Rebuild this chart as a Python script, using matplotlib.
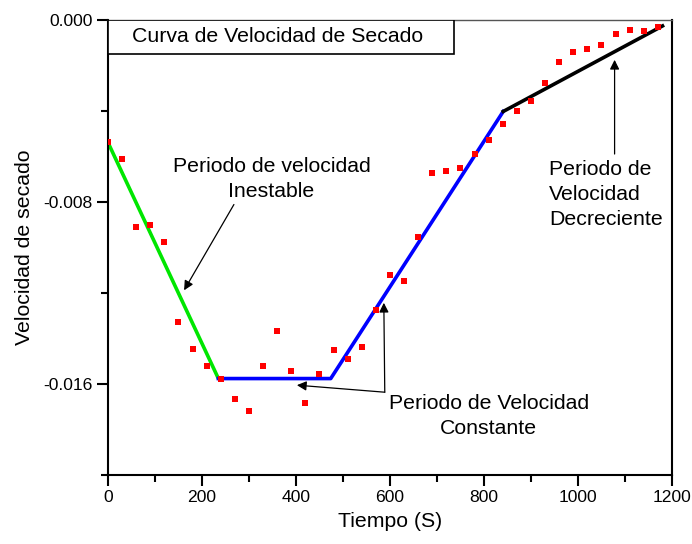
import numpy as np
import matplotlib.pyplot as plt
from matplotlib.patches import Rectangle
from matplotlib.ticker import MultipleLocator, FormatStrFormatter

plt.rcParams['font.family'] = ['Liberation Sans', 'DejaVu Sans']

# datos medidos (tiempo en s, velocidad de secado)
tiempo = [0, 30, 60, 90, 120, 150, 180, 210, 240, 270, 300, 330, 360, 390,
          420, 450, 480, 510, 540, 570, 600, 630, 660, 690, 720, 750, 780,
          810, 840, 870, 900, 930, 960, 990, 1020, 1050, 1080, 1110, 1140, 1170]
velocidad = [-0.00535, -0.00611, -0.00909, -0.00899, -0.00974, -0.01326,
             -0.01446, -0.01522, -0.01579, -0.01668, -0.01718, -0.01519,
             -0.01365, -0.01541, -0.01684, -0.01558, -0.01450, -0.01490,
             -0.01437, -0.01273, -0.01121, -0.01148, -0.00955, -0.00673,
             -0.00665, -0.00652, -0.00589, -0.00529, -0.00457, -0.00398,
             -0.00358, -0.00278, -0.00184, -0.00142, -0.00129, -0.00111,
             -0.00063, -0.00044, -0.00050, -0.00029]

# tramos ajustados
inestable_x = [0, 235]
inestable_y = [-0.00538, -0.01576]
constante_x = [235, 474, 841]
constante_y = [-0.01576, -0.01576, -0.00402]
decreciente_x = [841, 1180]
decreciente_y = [-0.00402, -0.00026]

fig = plt.figure(figsize=(6.92, 5.44), dpi=100)
ax = fig.add_axes([0.156, 0.1268, 0.815, 0.8364])

ax.plot(tiempo, velocidad, 's', color='#ff0000', markersize=4.5, markeredgewidth=0, zorder=3)
ax.plot(inestable_x, inestable_y, color='#00e600', lw=2.6, solid_capstyle='butt', zorder=2)
ax.plot(constante_x, constante_y, color='#0000ff', lw=2.6, zorder=2)
ax.plot(decreciente_x, decreciente_y, color='black', lw=2.6, zorder=2)

ax.set_xlim(0, 1200)
ax.set_ylim(-0.020, 0.000)
ax.xaxis.set_major_locator(MultipleLocator(200))
ax.xaxis.set_minor_locator(MultipleLocator(100))
ax.yaxis.set_major_locator(MultipleLocator(0.008))
ax.yaxis.set_minor_locator(MultipleLocator(0.004))
ax.yaxis.set_major_formatter(FormatStrFormatter('%.3f'))
ax.tick_params(which='major', direction='out', length=8, width=1.5, labelsize=12.6, pad=3)
ax.tick_params(which='minor', direction='out', length=5, width=1.5)
ax.tick_params(top=False, right=False)
for s in ['left', 'bottom', 'right']:
    ax.spines[s].set_linewidth(1.5)
ax.spines['top'].set_linewidth(1.0)
ax.spines['top'].set_color('#555555')

ax.set_xlabel('Tiempo (S)', fontsize=15.3, labelpad=5)
ax.set_ylabel('Velocidad de secado', fontsize=15.3, labelpad=7)

# titulo en recuadro
ax.add_patch(Rectangle((0, 0.9254), 0.6135, 0.0746, transform=ax.transAxes,
                       fc='white', ec='black', lw=1.2, zorder=4))
ax.text(0.0426, 0.9627, 'Curva de Velocidad de Secado', transform=ax.transAxes,
        fontsize=15.3, ha='left', va='center', zorder=5)

arr = dict(arrowstyle='-|>', color='black', lw=0.9, mutation_scale=14,
           shrinkA=0, shrinkB=0)

ax.text(348, -0.00697, 'Periodo de velocidad\nInestable', fontsize=15.3,
        ha='center', va='center', linespacing=1.4)
ax.annotate('', xy=(162, -0.01188), xytext=(268, -0.00811), arrowprops=arr)

ax.text(939, -0.00765, 'Periodo de\nVelocidad\nDecreciente', fontsize=15.3,
        ha='left', va='center', linespacing=1.4)
ax.annotate('', xy=(1078, -0.00175), xytext=(1078, -0.00589), arrowprops=arr)

ax.text(810, -0.01741, 'Periodo de Velocidad\nConstante', fontsize=15.3,
        ha='center', va='center', linespacing=1.4)
ax.annotate('', xy=(587, -0.01243), xytext=(589, -0.01636), arrowprops=arr)
ax.annotate('', xy=(402, -0.01605), xytext=(589, -0.01636), arrowprops=arr)

fig.savefig('out.png', dpi=100)
